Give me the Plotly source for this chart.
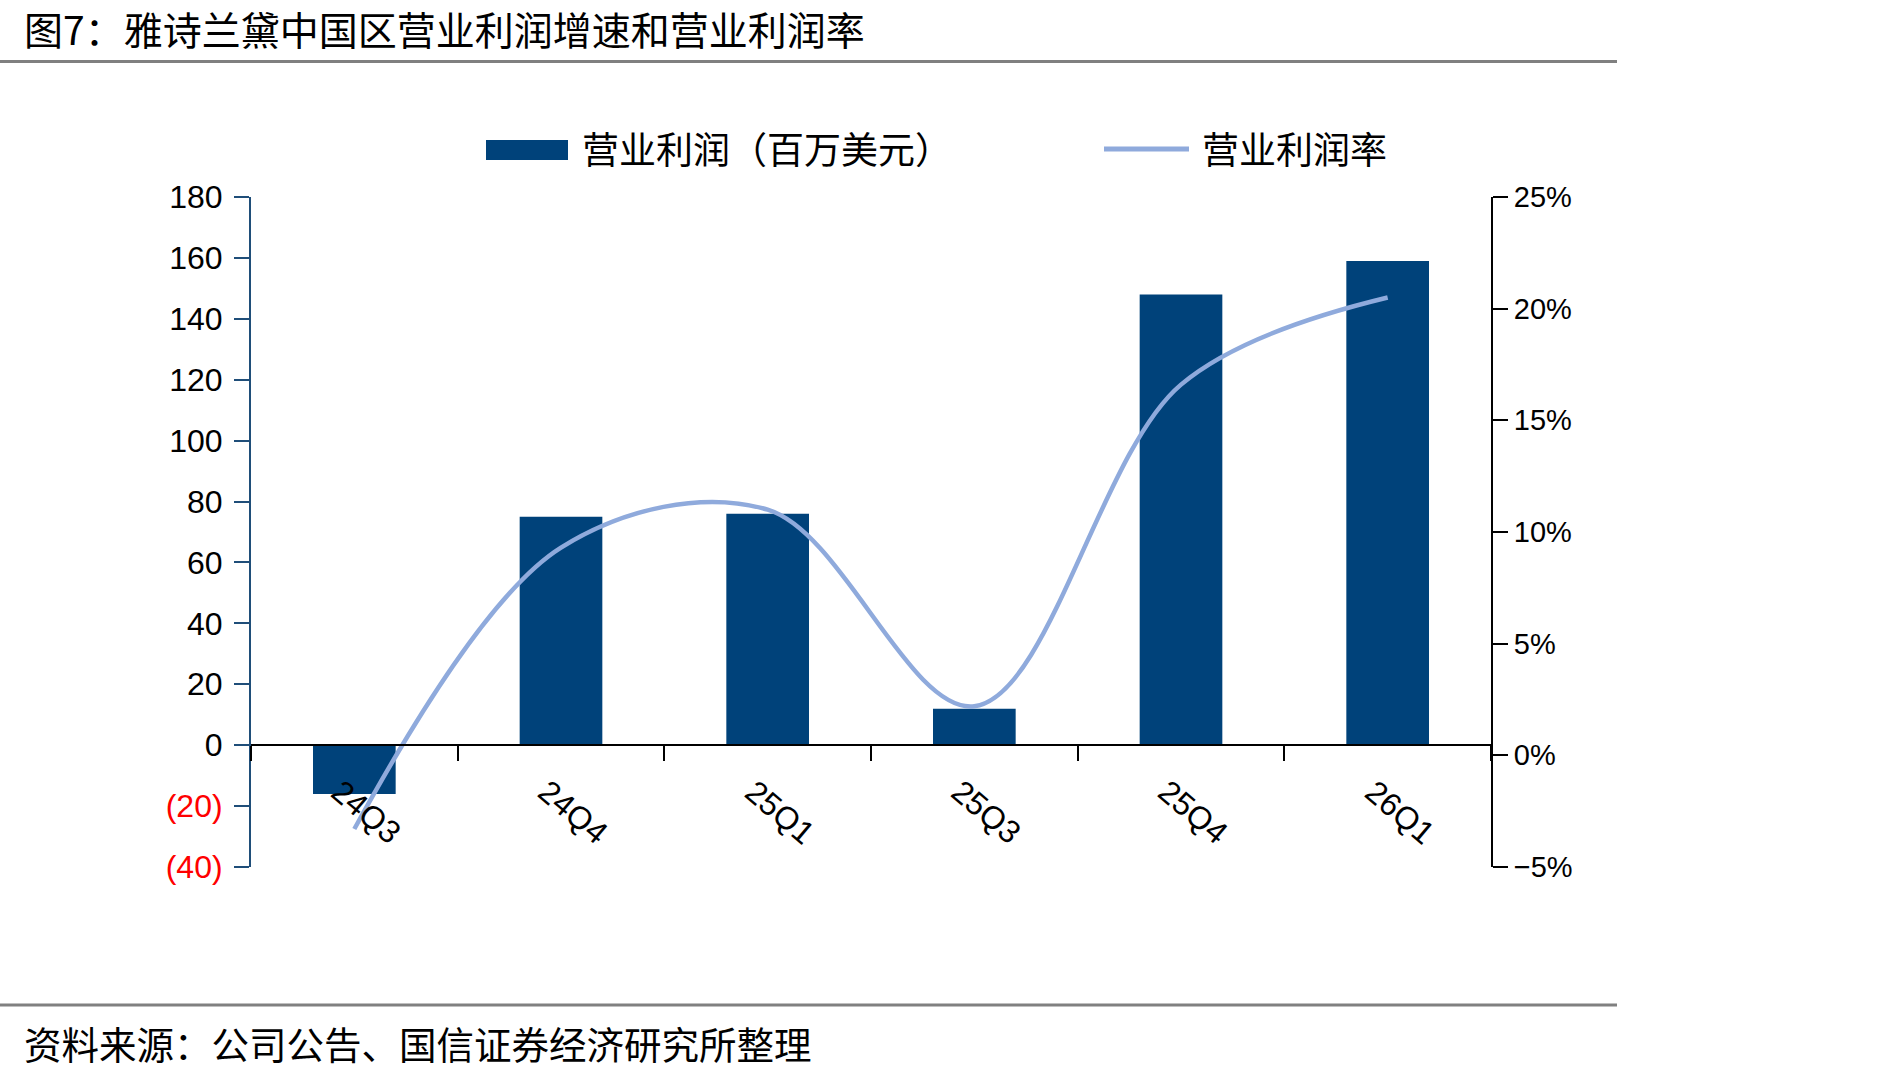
import plotly.graph_objects as go

# ---- data ----
categories = ["24Q3", "24Q4", "25Q1", "25Q3", "25Q4", "26Q1"]
op_profit = [-16, 75, 76, 12, 148, 159]          # 营业利润（百万美元）
op_margin = [-3.3, 9.3, 11.0, 2.2, 16.6, 20.5]    # 营业利润率 (%)

left_ticks = [-40, -20, 0, 20, 40, 60, 80, 100, 120, 140, 160, 180]
left_ticktext = ['<span style="color:#FF0000">(40)</span>',
                 '<span style="color:#FF0000">(20)</span>',
                 "0", "20", "40", "60", "80", "100", "120", "140", "160", "180"]
right_ticks = [-5, 0, 5, 10, 15, 20, 25]
right_ticktext = ["\u22125%", "0%", "5%", "10%", "15%", "20%", "25%"]

title_text = "图7：雅诗兰黛中国区营业利润增速和营业利润率"
source_text = "资料来源：公司公告、国信证券经济研究所整理"
legend_bar = "营业利润（百万美元）"
legend_line = "营业利润率"

# ---- layout geometry ----
W, H = 1890, 1077
ML, MR, MT, MB = 251, 399, 197, 210
PW, PH = W - ML - MR, H - MT - MB


def px(x):
    return (x - ML) / PW


def py(y):
    return (H - MB - y) / PH


BAR_COLOR = "#00427A"
LINE_COLOR = "#8FAADC"
CJK = "Noto Sans CJK SC"

y_range = [-40, 180]
y2_range = [-5, 25]

fig = go.Figure()
fig.add_trace(go.Bar(x=categories, y=op_profit, marker=dict(color=BAR_COLOR, line=dict(width=0)),
                     width=0.4, name=legend_bar, showlegend=False))
fig.add_trace(go.Scatter(x=categories, y=op_margin, mode="lines", yaxis="y2",
                         line=dict(color=LINE_COLOR, width=4.5, shape="spline", smoothing=1.0),
                         name=legend_line, showlegend=False))

zero_pos = (0 - y_range[0]) / (y_range[1] - y_range[0])

fig.update_layout(
    width=W, height=H, autosize=False,
    margin=dict(l=ML, r=MR, t=MT, b=MB, pad=0),
    paper_bgcolor="white", plot_bgcolor="white",
    showlegend=False,
    bargap=0.6,
    xaxis=dict(type="category", range=[-0.5, len(categories) - 0.5],
               anchor="free", position=zero_pos,
               showline=True, linecolor="black", linewidth=2,
               ticks="outside", tickson="boundaries", ticklen=15, tickwidth=2, tickcolor="black",
               showticklabels=False, showgrid=False, zeroline=False),
    yaxis=dict(range=y_range, tickvals=left_ticks, ticktext=left_ticktext,
               showline=True, linecolor="#1F4E79", linewidth=2,
               ticks="outside", ticklen=15, tickwidth=2, tickcolor="#1F4E79",
               ticklabelstandoff=5,
               showgrid=False, zeroline=False,
               tickfont=dict(family="Liberation Sans", size=32, color="black")),
    yaxis2=dict(range=y2_range, tickvals=right_ticks, ticktext=right_ticktext,
                overlaying="y", side="right", anchor="x",
                showline=True, linecolor="black", linewidth=2,
                ticks="outside", ticklen=15, tickwidth=2, tickcolor="black",
                showgrid=False, zeroline=False,
                tickfont=dict(family="Liberation Sans", size=29, color="black")),
)

annotations = []
# rotated category labels
for c in categories:
    annotations.append(dict(x=c, xref="x", y=py(812), yref="paper", text=c, showarrow=False,
                            textangle=40, xanchor="center", yanchor="middle", xshift=12,
                            font=dict(family="Liberation Sans Narrow, Liberation Sans", size=32, color="black")))
# title and source
annotations.append(dict(x=px(22), y=py(28), xref="paper", yref="paper", text=title_text,
                        showarrow=False, xanchor="left", yanchor="middle",
                        font=dict(family=CJK, size=39, color="black")))
annotations.append(dict(x=px(22), y=py(1042), xref="paper", yref="paper", text=source_text,
                        showarrow=False, xanchor="left", yanchor="middle",
                        font=dict(family=CJK, size=37.5, color="black")))
# legend texts
annotations.append(dict(x=px(580), y=py(148), xref="paper", yref="paper", text=legend_bar,
                        showarrow=False, xanchor="left", yanchor="middle",
                        font=dict(family=CJK, size=37, color="black")))
annotations.append(dict(x=px(1200), y=py(148), xref="paper", yref="paper", text=legend_line,
                        showarrow=False, xanchor="left", yanchor="middle",
                        font=dict(family=CJK, size=37, color="black")))

shapes = [
    # rule under title
    dict(type="line", xref="paper", yref="paper", x0=px(0), x1=px(1617), y0=py(61.5), y1=py(61.5),
         line=dict(color="#808080", width=3)),
    # rule above source
    dict(type="line", xref="paper", yref="paper", x0=px(0), x1=px(1617), y0=py(1005), y1=py(1005),
         line=dict(color="#808080", width=3)),
    # legend swatches
    dict(type="rect", xref="paper", yref="paper", x0=px(486), x1=px(568), y0=py(160), y1=py(140),
         fillcolor=BAR_COLOR, line=dict(width=0)),
    dict(type="line", xref="paper", yref="paper", x0=px(1104), x1=px(1189), y0=py(149), y1=py(149),
         line=dict(color=LINE_COLOR, width=5)),
]

fig.update_layout(annotations=annotations, shapes=shapes)
fig.write_html("out.html")
